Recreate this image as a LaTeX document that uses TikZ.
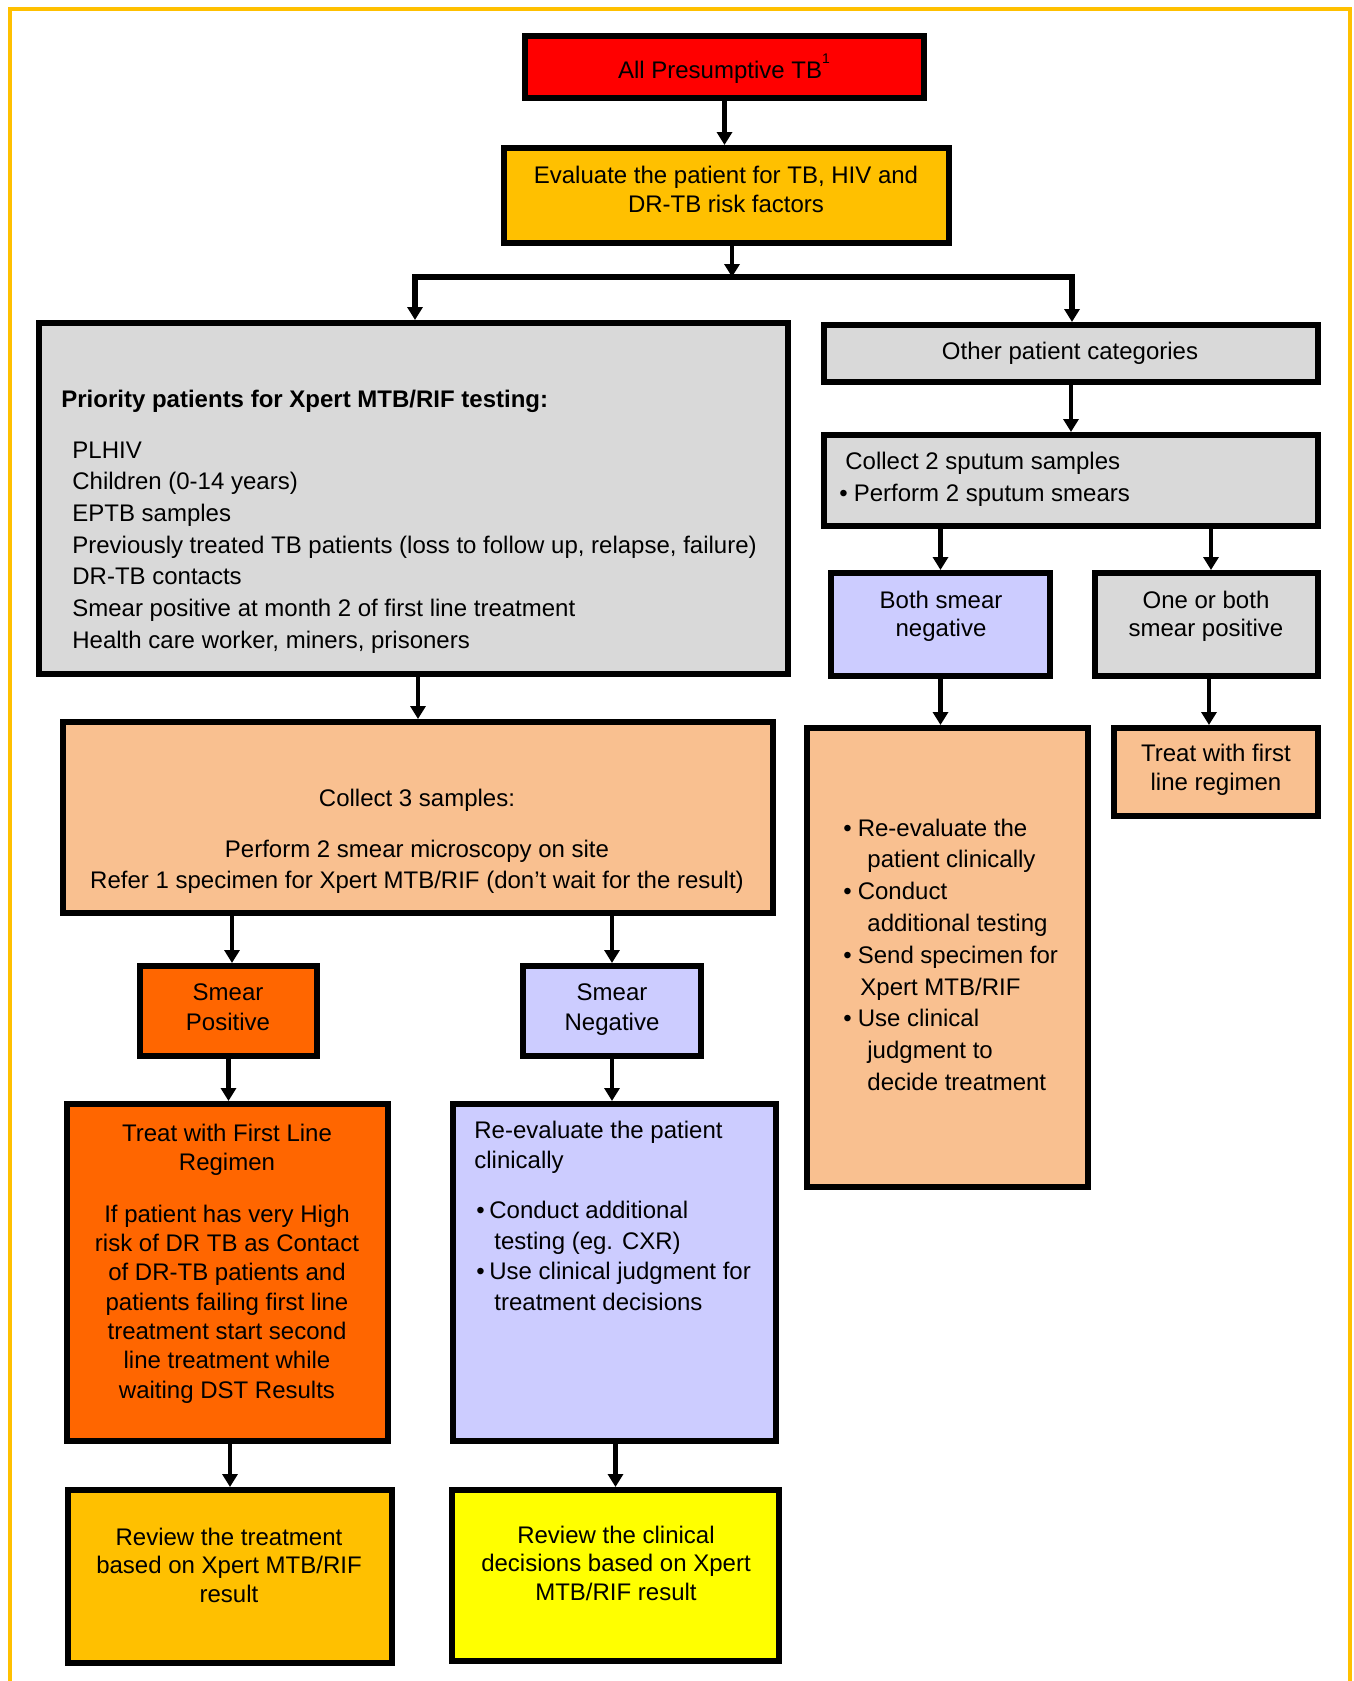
\documentclass[tikz,border=0pt]{standalone}
\usepackage{fontspec}
\setmainfont{Liberation Sans}
\usetikzlibrary{arrows.meta}
\definecolor{framecol}{HTML}{FFC000}
\definecolor{redbox}{HTML}{FF0000}
\definecolor{ambbox}{HTML}{FFC000}
\definecolor{graybox}{HTML}{D9D9D9}
\definecolor{bluebox}{HTML}{CCCCFF}
\definecolor{peachbox}{HTML}{F9C090}
\definecolor{orangebox}{HTML}{FF6600}
\definecolor{yellowbox}{HTML}{FFFF00}
\newcommand\flowbox[6]{\node[flbox, fill=#2, minimum width={(#5-#3-6)*0.5pt}, minimum height={(#6-#4-6)*0.5pt}] (#1) at ({(#3+#5)/2},{(#4+#6)/2}) {};}
\newcommand\ctab[1]{\begin{tabular}[t]{@{}c@{}}#1\end{tabular}}
\newcommand\ltab[1]{\begin{tabular}[t]{@{}l@{}}#1\end{tabular}}
\begin{document}
\begin{tikzpicture}[x=0.5pt,y=-0.5pt,
  flbox/.style={draw=black, line width=3pt, inner sep=0pt},
  txt/.style={inner sep=0pt, text=black},
  arr/.style={line width=2.4pt, -{Triangle[length=6.5pt,width=7.5pt]}},
  arrtwo/.style={line width=2.6pt, {Triangle[length=6.5pt,width=7.5pt]}-{Triangle[length=6.5pt,width=7.5pt]}}]
\useasboundingbox (0,0) rectangle (1354,1681);
\begin{scope}
\clip (0,0) rectangle (1354,1681);
\draw[draw=framecol, line width=2.3pt] (10,1720) -- (10,9) -- (1350,9) -- (1350,1720);
\end{scope}

% boxes
\flowbox{red}{redbox}{522}{33}{927}{101}
\flowbox{eval}{ambbox}{501}{145}{952}{246}
\flowbox{prio}{graybox}{36}{320}{791}{677}
\flowbox{other}{graybox}{821}{322}{1321}{385}
\flowbox{coltwo}{graybox}{821}{432}{1321}{529}
\flowbox{bsn}{bluebox}{828}{570}{1053}{679}
\flowbox{obs}{graybox}{1092}{570}{1321}{679}
\flowbox{rpeach}{peachbox}{804}{725}{1091}{1190}
\flowbox{treatone}{peachbox}{1111}{725}{1321}{819}
\flowbox{cthree}{peachbox}{60}{719}{776}{916}
\flowbox{sp}{orangebox}{137}{963}{320}{1059}
\flowbox{sn}{bluebox}{520}{963}{704}{1059}
\flowbox{treatA}{orangebox}{64}{1101}{391}{1444}
\flowbox{blue}{bluebox}{450}{1101}{779}{1444}
\flowbox{revone}{ambbox}{65}{1487}{395}{1666}
\flowbox{revtwo}{yellowbox}{449}{1487}{782}{1664}

% texts
\node[txt, anchor=base, font=\fontsize{12}{14.5}\selectfont] (tred) at (724,78) {All Presumptive TB\raisebox{1.15ex}{\fontsize{7}{7}\selectfont 1}};
\node[txt, anchor=base, font=\fontsize{12}{14.5}\selectfont] (teval) at (726,183) {\ctab{Evaluate the patient for TB, HIV and\\DR-TB risk factors}};
\node[txt, anchor=base west, font=\fontsize{12}{14.5}\selectfont\bfseries] (tprioh) at (61,407) {Priority patients for Xpert MTB/RIF testing:};
\node[txt, anchor=base west, font=\fontsize{12}{15.85}\selectfont] (tpriol) at (72,458) {\ltab{PLHIV\\Children (0-14 years)\\EPTB samples\\Previously treated TB patients (loss to follow up, relapse, failure)\\DR-TB contacts\\Smear positive at month 2 of first line treatment\\Health care worker, miners, prisoners}};
\node[txt, anchor=base, font=\fontsize{12}{14.5}\selectfont] (tother) at (1070,359) {Other patient categories};
\node[txt, anchor=base west, font=\fontsize{12}{16}\selectfont] (tcoltwo) at (839,469) {\ltab{\hspace{3pt}Collect 2 sputum samples\\\textbullet\hspace{3pt}Perform 2 sputum smears}};
\node[txt, anchor=base, font=\fontsize{12}{14}\selectfont] (tbsn) at (941,608) {\ctab{Both smear\\negative}};
\node[txt, anchor=base, font=\fontsize{12}{14}\selectfont] (tobs) at (1206,608) {\ctab{One or both\\smear positive}};
\node[txt, anchor=base, font=\fontsize{12}{14.5}\selectfont] (ttreatone) at (1216,761) {\ctab{Treat with first\\line regimen}};
\node[txt, anchor=base west, font=\fontsize{12}{15.9}\selectfont] (trpeach) at (843,836) {\ltab{\textbullet\hspace{3pt}Re-evaluate the\\\hspace{12pt}patient clinically\\\textbullet\hspace{3pt}Conduct\\\hspace{12pt}additional testing\\\textbullet\hspace{3pt}Send specimen for\\\hspace{8.5pt}Xpert MTB/RIF\\\textbullet\hspace{3pt}Use clinical\\\hspace{12pt}judgment to\\\hspace{12pt}decide treatment}};
\node[txt, anchor=base, font=\fontsize{12}{15.5}\selectfont] (tcthree) at (417,806) {\ctab{Collect 3 samples:\\[10pt]Perform 2 smear microscopy on site\\Refer 1 specimen for Xpert MTB/RIF (don’t wait for the result)}};
\node[txt, anchor=base, font=\fontsize{12}{15}\selectfont] (tsp) at (228,1000) {\ctab{Smear\\Positive}};
\node[txt, anchor=base, font=\fontsize{12}{15}\selectfont] (tsn) at (612,1000) {\ctab{Smear\\Negative}};
\node[txt, anchor=base, font=\fontsize{12}{14.65}\selectfont] (ttreatA) at (227,1141) {\ctab{Treat with First Line\\Regimen\\[11.35pt]If patient has very High\\risk of DR TB as Contact\\of DR-TB patients and\\patients failing first line\\treatment start second\\line treatment while\\waiting DST Results}};
\node[txt, anchor=base west, font=\fontsize{12}{15.3}\selectfont] (tblue) at (474,1138) {\ltab{Re-evaluate the patient\\clinically\\[9.7pt]\hspace{1pt}\textbullet\hspace{2.3pt}Conduct additional\\\hspace{10pt}testing (eg. CXR)\\\hspace{1pt}\textbullet\hspace{2.3pt}Use clinical judgment for\\\hspace{10pt}treatment decisions}};
\node[txt, anchor=base, font=\fontsize{12}{14.25}\selectfont] (trevone) at (229,1545) {\ctab{Review the treatment\\based on Xpert MTB/RIF\\result}};
\node[txt, anchor=base, font=\fontsize{12}{14.25}\selectfont] (trevtwo) at (616,1543) {\ctab{Review the clinical\\decisions based on Xpert\\MTB/RIF result}};

% connectors
\coordinate (bl) at (415,277);
\coordinate (bm) at (732,277);
\coordinate (br) at (1072,277);
\coordinate (obsin) at ([xshift=2.25pt]obs.north);
\coordinate (obsout) at ([xshift=1.25pt]obs.south);
\coordinate (spin) at ([xshift=1.75pt]sp.north);
\coordinate (evalout) at ([xshift=2.75pt]eval.south);
\draw[arr] (red.south) -- (red.south |- eval.north);
\draw[arr] (evalout) -- (bm);
\draw[arrtwo] (bl |- prio.north) -- (bl) -- (br) -- (br |- other.north);
\draw[arr] (prio.south -| cthree.north) -- (cthree.north);
\draw[arr] (other.south) -- (other.south |- coltwo.north);
\draw[arr] (coltwo.south -| bsn.north) -- (bsn.north);
\draw[arr] (coltwo.south -| obsin) -- (obsin);
\draw[arr] (bsn.south) -- (bsn.south |- rpeach.north);
\draw[arr] (obsout) -- (obsout |- treatone.north);
\draw[arr] (cthree.south -| spin) -- (spin);
\draw[arr] (cthree.south -| sn.north) -- (sn.north);
\draw[arr] (sp.south) -- (sp.south |- treatA.north);
\draw[arr] (sn.south) -- (sn.south |- blue.north);
\draw[arr] (treatA.south -| revone.north) -- (revone.north);
\draw[arr] (blue.south -| revtwo.north) -- (revtwo.north);
\end{tikzpicture}
\end{document}
